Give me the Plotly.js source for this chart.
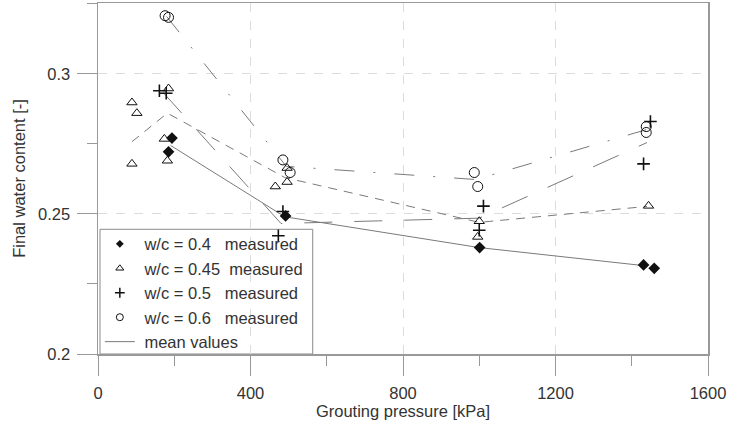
<!DOCTYPE html>
<html>
<head>
<meta charset="utf-8">
<script src="https://cdn.plot.ly/plotly-3.0.1.min.js"></script>
<style>html,body{margin:0;padding:0;background:#fff;}#chart{width:729px;height:429px;}</style>
</head>
<body>
<div id="chart"></div>
<script>
// measured points
const wc04_x = [185, 194, 492, 1001, 1431, 1459];
const wc04_y = [0.2722, 0.2771, 0.2493, 0.2380, 0.2318, 0.2306];
const wc045_x = [89, 102, 89, 174, 182, 185, 465, 496, 496, 996, 1000, 1444];
const wc045_y = [0.2898, 0.2860, 0.2679, 0.2768, 0.2690, 0.2948, 0.2598, 0.2614, 0.2664, 0.2418, 0.2474, 0.2529];
const wc05_x = [161, 179, 473, 485, 1000, 1011, 1431, 1449];
const wc05_y = [0.2940, 0.2931, 0.2422, 0.2509, 0.2442, 0.2528, 0.2679, 0.2830];
const wc06_x = [176, 185, 485, 504, 987, 996, 1438, 1438];
const wc06_y = [0.3208, 0.3202, 0.2693, 0.2648, 0.2648, 0.2598, 0.2812, 0.2791];
// mean values
const m04_x = [190, 490, 1000, 1435];
const m04_y = [0.2745, 0.249, 0.238, 0.2315];
const m045_x = [89, 182, 490, 1000, 1440];
const m045_y = [0.2758, 0.286, 0.263, 0.247, 0.2527];
const m05_x = [170, 480, 1000, 1440];
const m05_y = [0.2935, 0.2466, 0.2485, 0.2755];
const m06_x = [180, 494, 991, 1438];
const m06_y = [0.3205, 0.267, 0.2623, 0.2801];
// labels
const legendLabels = ['\u00a0w/c = 0.4\u00a0\u00a0\u00a0measured', '\u00a0w/c = 0.45\u00a0\u00a0measured', '\u00a0w/c = 0.5\u00a0\u00a0\u00a0measured', '\u00a0w/c = 0.6\u00a0\u00a0\u00a0measured', '\u00a0mean values'];
const xTicks = [0, 400, 800, 1200, 1600];
const yTicks = [0.2, 0.25, 0.3];
const yTickText = ['0.2', '0.25', '0.3'];

const FONT = 'Liberation Sans, Arial, Helvetica, sans-serif';
const lineCol = '#7a7a7a';
const mk = '#111';

function meanTrace(x, y, dash) {
  return {x: x, y: y, mode: 'lines', type: 'scatter', showlegend: false, hoverinfo: 'skip',
    line: {color: lineCol, width: 1, dash: dash}};
}
const traces = [
  meanTrace(m04_x, m04_y, 'solid'),
  meanTrace(m045_x, m045_y, '9px,7px'),
  meanTrace(m05_x, m05_y, '28px,22px'),
  meanTrace(m06_x, m06_y, '20px,19px,2px,19px'),
  {x: wc04_x, y: wc04_y, mode: 'markers', type: 'scatter', showlegend: false,
    marker: {symbol: 'diamond', size: 9, color: mk}},
  {x: wc045_x, y: wc045_y, mode: 'markers', type: 'scatter', showlegend: false,
    marker: {symbol: 'triangle-up-open', size: 9, color: mk, line: {width: 1, color: mk}}},
  {x: wc05_x, y: wc05_y, mode: 'markers', type: 'scatter', showlegend: false,
    marker: {symbol: 'cross-thin-open', size: 9, color: mk, line: {width: 1.6, color: mk}}},
  {x: wc06_x, y: wc06_y, mode: 'markers', type: 'scatter', showlegend: false,
    marker: {symbol: 'circle-open', size: 10, color: mk, line: {width: 1, color: mk}}},
  // legend entries
  {x: [null], y: [null], mode: 'markers', type: 'scatter', name: legendLabels[0],
    marker: {symbol: 'diamond', size: 6, color: mk}},
  {x: [null], y: [null], mode: 'markers', type: 'scatter', name: legendLabels[1],
    marker: {symbol: 'triangle-up-open', size: 7, color: mk, line: {width: 1, color: mk}}},
  {x: [null], y: [null], mode: 'markers', type: 'scatter', name: legendLabels[2],
    marker: {symbol: 'cross-thin-open', size: 7, color: mk, line: {width: 1.5, color: mk}}},
  {x: [null], y: [null], mode: 'markers', type: 'scatter', name: legendLabels[3],
    marker: {symbol: 'circle-open', size: 7, color: mk, line: {width: 1, color: mk}}},
  {x: [null], y: [null], mode: 'lines', type: 'scatter', name: legendLabels[4],
    line: {color: lineCol, width: 1}}
];

const axisCommon = {
  showline: true, mirror: true, linecolor: '#999', linewidth: 1.5,
  ticks: 'outside', ticklen: 20, tickcolor: '#999', tickwidth: 1,
  showgrid: true, gridcolor: '#dcdcdc', gridwidth: 1, griddash: 'dash',
  zeroline: false, tickfont: {family: FONT, size: 16.5, color: '#333'}
};

const layout = {
  width: 729, height: 429,
  margin: {l: 98, r: 21, t: 3, b: 75},
  paper_bgcolor: '#fff', plot_bgcolor: '#fff',
  font: {family: FONT, size: 16.5, color: '#333'},
  xaxis: Object.assign({}, axisCommon, {
    range: [0, 1600], tickvals: xTicks, ticktext: xTicks.map(String),
    minor: {dtick: 200, ticklen: 10, tickcolor: '#999', tickwidth: 1, ticks: 'outside', showgrid: false},
    ticklabelstandoff: 4,
    title: {text: 'Grouting pressure [kPa]', font: {family: FONT, size: 16.5, color: '#333'}, standoff: 3}
  }),
  yaxis: Object.assign({}, axisCommon, {
    range: [0.2, 0.32533], tickvals: yTicks, ticktext: yTickText,
    minor: {dtick: 0.025, ticklen: 10, tickcolor: '#999', tickwidth: 1, ticks: 'outside', showgrid: false},
    ticklabelstandoff: 3,
    title: {text: 'Final water content [-]', font: {family: FONT, size: 16.5, color: '#333'}, standoff: 8}
  }),
  showlegend: true,
  legend: {
    x: 0.003, y: -0.016, xanchor: 'left', yanchor: 'bottom',
    bgcolor: 'rgba(255,255,255,0)', borderwidth: 0,
    font: {family: FONT, size: 16.5, color: '#333'},
    itemsizing: 'trace', tracegroupgap: 0
  },
  shapes: [{type: 'rect', xref: 'paper', yref: 'paper', x0: 0.0033, x1: 0.352, y0: 0, y1: 0.3553,
    fillcolor: '#fff', line: {width: 1, color: '#8a8a8a'}, layer: 'between'}]
};

Plotly.newPlot('chart', traces, layout, {displayModeBar: false, staticPlot: true});
</script>
</body>
</html>
